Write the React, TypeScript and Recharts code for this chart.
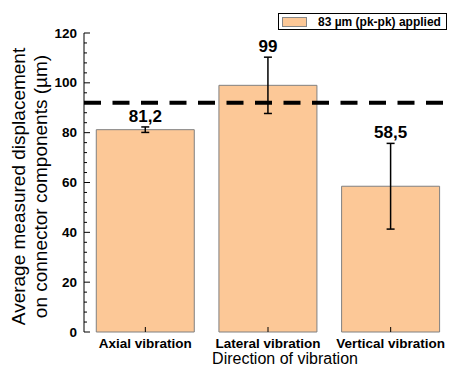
import {
  ComposedChart, Bar, Line, XAxis, YAxis, ErrorBar, LabelList, ReferenceLine, Legend,
} from "recharts";

const categories = ["Axial vibration", "Lateral vibration", "Vertical vibration"];
const meanDisplacement = [81.2, 99, 58.5];
const displacementError = [1.1, 11.3, 17.2];
const valueLabels = ["81,2", "99", "58,5"];
const seriesName = "83 µm (pk-pk) applied";
const appliedLevel = 92;
const yTicks = [
  0, 4, 8, 12, 16, 20, 24, 28, 32, 36, 40, 44, 48, 52, 56, 60,
  64, 68, 72, 76, 80, 84, 88, 92, 96, 100, 104, 108, 112, 116, 120,
];
const boundaryTicks = [0, 1, 2, 3];

const FONT = "'Liberation Sans', Arial, sans-serif";
const BAR_FILL = "#fcc897";

const data = categories.map((name, i) => ({
  name,
  mean: meanDisplacement[i],
  err: displacementError[i],
  upper: meanDisplacement[i] + displacementError[i],
  label: valueLabels[i],
}));

const isMajorY = (v: number) => v % 20 === 0;

function LeftTick({ x, y, payload }: any) {
  const major = isMajorY(payload.value);
  return (
    <g>
      <line x1={x} x2={x + (major ? 6 : 3)} y1={y} y2={y} stroke="#000" />
      {major && (
        <text x={x - 7} y={y} textAnchor="end" dominantBaseline="central"
          fontFamily={FONT} fontWeight={700} fontSize={13.5} fill="#000">
          {payload.value}
        </text>
      )}
    </g>
  );
}

function RightTick({ x, y, payload }: any) {
  const major = isMajorY(payload.value);
  return <line x1={x} x2={x - (major ? 6 : 3)} y1={y} y2={y} stroke="#000" />;
}

// short ticks on the boundaries between categories
function TopBoundaryTick({ x, y }: any) {
  return <line x1={x} x2={x} y1={y} y2={y + 4} stroke="#000" />;
}

function BottomBoundaryTick({ x, y }: any) {
  return <line x1={x} x2={x} y1={y} y2={y - 4} stroke="#000" />;
}

function TopCategoryTick({ x, y }: any) {
  return <line x1={x} x2={x} y1={y} y2={y + 5} stroke="#000" />;
}

function CategoryTick({ x, y, payload }: any) {
  return (
    <g>
      <line x1={x} x2={x} y1={y} y2={y - 5} stroke="#000" />
      <text x={x} y={y + 16} textAnchor="middle" fontFamily={FONT}
        fontWeight={700} fontSize={13.5} fill="#000">
        {payload.value}
      </text>
    </g>
  );
}

function YTitle({ viewBox }: any) {
  const cy = (viewBox?.y ?? 33) + (viewBox?.height ?? 299) / 2 + 4;
  return (
    <g fontFamily={FONT} fontSize={19} fill="#000">
      <text transform={`translate(25, ${cy}) rotate(-90)`} textAnchor="middle">
        Average measured displacement
      </text>
      <text transform={`translate(47, ${cy}) rotate(-90)`} textAnchor="middle">
        on connector components (µm)
      </text>
    </g>
  );
}

function XTitle({ viewBox }: any) {
  const cx = (viewBox?.x ?? 84) + (viewBox?.width ?? 368) / 2 + 17;
  const top = viewBox?.y ?? 332;
  return (
    <text x={cx} y={top + 32} textAnchor="middle" fontFamily={FONT} fontSize={16} fill="#000">
      Direction of vibration
    </text>
  );
}

function LegendBox({ payload }: any) {
  const item = (payload || []).find((p: any) => p.value === seriesName);
  return (
    <div style={{
      width: 169, height: 17, boxSizing: "border-box", border: "1px solid #000",
      display: "flex", alignItems: "center", background: "#fff",
      fontFamily: FONT, fontSize: 12, fontWeight: 700, color: "#000",
    }}>
      <span style={{ width: 25, height: 10, marginLeft: 3, boxSizing: "border-box", background: BAR_FILL, border: "1px solid #888" }} />
      <span style={{ marginLeft: 11, whiteSpace: "nowrap" }}>{item ? item.value : seriesName}</span>
    </div>
  );
}

export default function App() {
  return (
    <div style={{ position: "fixed", left: 0, top: 0, background: "#fff" }}>
      <ComposedChart width={452} height={374} data={data} barCategoryGap="10%"
        margin={{ top: 33, right: 0, bottom: 0, left: 0 }}>
        <XAxis xAxisId="frameBottom" type="number" orientation="bottom" height={0}
          domain={[0, 3]} ticks={boundaryTicks} allowDataOverflow tickSize={0} tickMargin={0}
          tickLine={false} axisLine={{ stroke: "#000" }} tick={BottomBoundaryTick} interval={0} />
        <XAxis xAxisId="frameTop" type="number" orientation="top" height={0}
          domain={[0, 3]} ticks={boundaryTicks} allowDataOverflow tickSize={0} tickMargin={0}
          tickLine={false} axisLine={{ stroke: "#000" }} tick={TopBoundaryTick} interval={0} />
        <XAxis xAxisId="catTop" dataKey="name" orientation="top" height={0}
          tickSize={0} tickMargin={0} tickLine={false} axisLine={false}
          tick={TopCategoryTick} interval={0} />
        <XAxis xAxisId="cat" dataKey="name" orientation="bottom" height={42}
          tickSize={0} tickMargin={0} tickLine={false} axisLine={false}
          tick={CategoryTick} interval={0} label={{ content: XTitle }} />
        <YAxis yAxisId="left" width={84} domain={[0, 120]} ticks={yTicks} interval={0}
          tickSize={0} tickMargin={0} tickLine={false} axisLine={{ stroke: "#000" }}
          tick={LeftTick} label={{ content: YTitle }} />
        <YAxis yAxisId="right" orientation="right" width={0} domain={[0, 120]} ticks={yTicks}
          interval={0} tickSize={0} tickMargin={0} tickLine={false}
          axisLine={{ stroke: "#000" }} tick={RightTick} />
        <Legend layout="horizontal" verticalAlign="middle" align="center"
          wrapperStyle={{ top: 13, left: 278, width: "auto", height: "auto" }}
          content={LegendBox} />
        <Bar xAxisId="cat" yAxisId="left" dataKey="mean" name={seriesName}
          fill={BAR_FILL} stroke="#808080" strokeWidth={1} isAnimationActive={false}>
          <ErrorBar dataKey="err" direction="y" width={4} strokeWidth={1.5} stroke="#000" />
        </Bar>
        <ReferenceLine xAxisId="cat" yAxisId="left" y={appliedLevel} stroke="#000"
          strokeWidth={4} strokeDasharray="17 11.5" />
        <Line xAxisId="cat" yAxisId="left" dataKey="upper" stroke="none" dot={false}
          activeDot={false} legendType="none" isAnimationActive={false}>
          <LabelList dataKey="label" position="top" offset={5} fill="#000"
            fontFamily={FONT} fontWeight={700} fontSize={17} />
        </Line>
      </ComposedChart>
    </div>
  );
}
